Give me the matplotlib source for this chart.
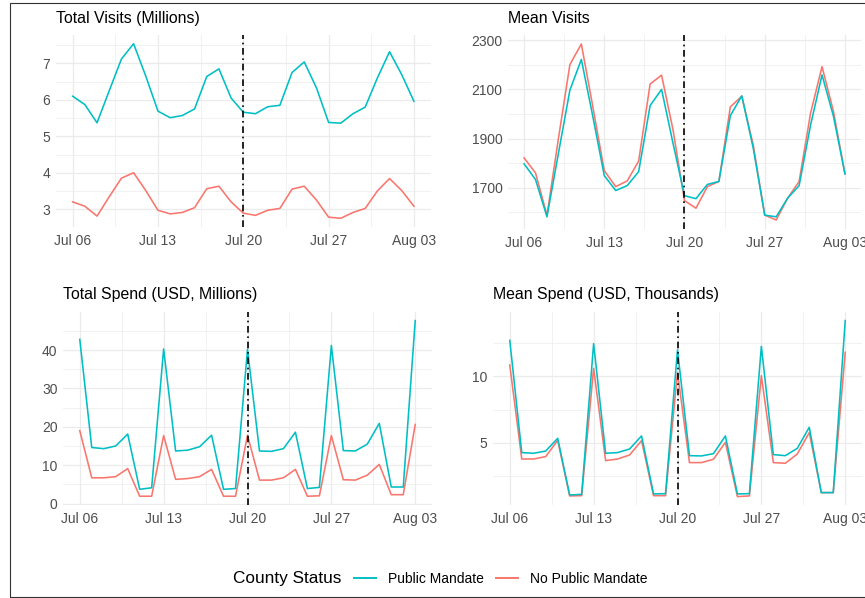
import matplotlib
matplotlib.use('Agg')
import matplotlib.pyplot as plt
import matplotlib.dates as mdates
from matplotlib.ticker import MultipleLocator, FixedLocator
from matplotlib.lines import Line2D
from matplotlib.patches import Rectangle
import pandas as pd

plt.rcParams['font.family'] = ['Liberation Sans', 'DejaVu Sans']

# daily series, Jul 06 - Aug 03
dates = pd.date_range('2020-07-06', '2020-08-03', freq='D')

visits_mandate = [6.10, 5.87, 5.37, 6.25, 7.12, 7.54, 6.65, 5.69, 5.51, 5.57, 5.75, 6.64, 6.85, 6.05, 5.66,
                  5.62, 5.81, 5.85, 6.75, 7.04, 6.33, 5.38, 5.36, 5.62, 5.80, 6.60, 7.32, 6.69, 5.96]
visits_no_mandate = [3.20, 3.08, 2.81, 3.34, 3.85, 4.00, 3.51, 2.97, 2.87, 2.91, 3.04, 3.56, 3.63, 3.20, 2.89,
                     2.83, 2.97, 3.02, 3.55, 3.63, 3.25, 2.78, 2.75, 2.91, 3.02, 3.50, 3.84, 3.51, 3.08]

mean_visits_mandate = [1797, 1733, 1581, 1840, 2097, 2222, 1990, 1749, 1688, 1708, 1765, 2034, 2100, 1880, 1667,
                       1655, 1713, 1725, 1993, 2074, 1860, 1588, 1581, 1657, 1708, 1955, 2159, 1990, 1756]
mean_visits_no_mandate = [1821, 1760, 1587, 1900, 2201, 2285, 2030, 1769, 1704, 1727, 1808, 2122, 2158, 1935, 1647,
                          1616, 1704, 1725, 2029, 2072, 1873, 1588, 1568, 1657, 1725, 2003, 2193, 2010, 1756]

spend_mandate = [42.8, 14.6, 14.3, 15.0, 18.1, 3.7, 4.1, 40.3, 13.7, 13.9, 14.8, 17.8, 3.7, 3.9, 40.2,
                 13.7, 13.6, 14.3, 18.6, 3.9, 4.2, 41.2, 13.8, 13.7, 15.5, 20.9, 4.3, 4.3, 47.7]
spend_no_mandate = [19.0, 6.7, 6.7, 7.0, 9.1, 1.9, 1.9, 17.7, 6.3, 6.5, 7.0, 8.9, 1.9, 1.9, 17.8,
                    6.1, 6.1, 6.7, 8.9, 1.9, 2.0, 17.7, 6.2, 6.1, 7.4, 10.2, 2.3, 2.3, 20.6]

mean_spend_mandate = [12.70, 4.28, 4.23, 4.40, 5.35, 1.10, 1.15, 12.45, 4.23, 4.28, 4.55, 5.53, 1.18, 1.20, 11.98,
                      4.05, 4.03, 4.20, 5.53, 1.18, 1.20, 12.25, 4.13, 4.05, 4.60, 6.18, 1.28, 1.28, 14.18]
mean_spend_no_mandate = [10.85, 3.80, 3.80, 3.98, 5.20, 1.03, 1.05, 10.60, 3.68, 3.80, 4.10, 5.18, 1.05, 1.05, 10.30,
                         3.53, 3.53, 3.78, 5.05, 0.98, 1.03, 10.05, 3.53, 3.48, 4.18, 5.78, 1.28, 1.28, 11.80]

cutoff = pd.Timestamp('2020-07-20')
week_ticks = ['2020-07-06', '2020-07-13', '2020-07-20', '2020-07-27', '2020-08-03']

TEAL = '#00BFC4'
SALMON = '#F8766D'
GRID = '#EBEBEB'
W, H = 865, 598

# title, series, y major step, y major offset, y minor step, panel box in pixels (l, t, r, b)
panels = [
    ('Total Visits (Millions)', visits_mandate, visits_no_mandate, 1, 0, 0.5, (55.6, 35, 431, 227)),
    ('Mean Visits', mean_visits_mandate, mean_visits_no_mandate, 200, 100, 100, (508, 35.2, 861, 228.8)),
    ('Total Spend (USD, Millions)', spend_mandate, spend_no_mandate, 10, 0, 5, (63, 311.8, 432, 505)),
    ('Mean Spend (USD, Thousands)', mean_spend_mandate, mean_spend_no_mandate, 5, 0, 2.5, (493, 311.8, 862, 505.4)),
]

fig = plt.figure(figsize=(W / 100, H / 100), dpi=100)

x = mdates.date2num(dates)
week_x = mdates.date2num(pd.to_datetime(week_ticks))
for title, yes, no, major, offset, minor, (l, t, r, b) in panels:
    ax = fig.add_axes([l / W, 1 - b / H, (r - l) / W, (b - t) / H])
    ax.plot(x, no, color=SALMON, lw=1.15, zorder=3)
    ax.plot(x, yes, color=TEAL, lw=1.15, zorder=4)
    ax.axvline(mdates.date2num(cutoff), color='black', lw=1.2, dashes=(4, 2.2, 1, 2.2), zorder=5)

    # ggplot-style 5% expansion
    xr = x[-1] - x[0]
    ax.set_xlim(x[0] - 0.05 * xr, x[-1] + 0.05 * xr)
    lo = min(min(yes), min(no))
    hi = max(max(yes), max(no))
    ax.set_ylim(lo - 0.05 * (hi - lo), hi + 0.05 * (hi - lo))

    ax.xaxis.set_major_locator(FixedLocator(week_x))
    ax.xaxis.set_minor_locator(FixedLocator(week_x[:-1] + 3.5))
    ax.xaxis.set_major_formatter(mdates.DateFormatter('%b %d'))
    ax.yaxis.set_major_locator(MultipleLocator(major, offset=offset))
    ax.yaxis.set_minor_locator(MultipleLocator(minor))

    ax.grid(which='major', color=GRID, lw=0.9)
    ax.grid(which='minor', color=GRID, lw=0.5)
    ax.set_axisbelow(True)
    for s in ax.spines.values():
        s.set_visible(False)
    ax.tick_params(which='both', length=0, labelsize=10, labelcolor='#4D4D4D')
    ax.tick_params(axis='x', pad=5)
    ax.tick_params(axis='y', pad=4)

    fig.text(l / W, 1 - (t - 17) / H, title, fontsize=11.4, va='center', ha='left', color='black')

# shared legend at the bottom
fig.text(233 / W, 1 - 579 / H, 'County Status', fontsize=12.4, va='center', ha='left')
handles = [Line2D([], [], color=TEAL, lw=1.4), Line2D([], [], color=SALMON, lw=1.4)]
fig.legend(handles, ['Public Mandate', 'No Public Mandate'], loc='center left',
           bbox_to_anchor=(354 / W, 1 - 579 / H), ncol=2, frameon=False, fontsize=10,
           borderpad=0, borderaxespad=0, handlelength=1.58, handletextpad=0.84, columnspacing=0.91)

fig.patches.append(Rectangle((10 / W, 1 / H), 1.0, 1 - 4 / H, transform=fig.transFigure,
                             fill=False, edgecolor='#333333', lw=0.8))

plt.savefig('out.png', dpi=100)
